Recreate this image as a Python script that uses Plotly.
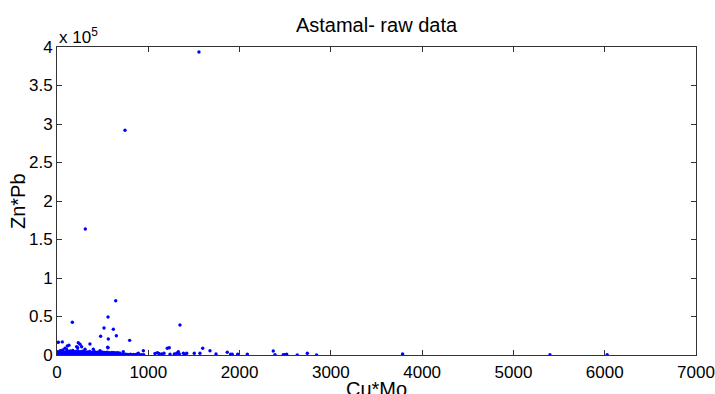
import plotly.graph_objects as go

# ---- data ----
outlier_x = [1555, 745, 310, 168, 559, 643, 515, 617, 478, 650, 562, 796, 1347, 559,
             15, 58, 113, 131, 233, 252, 270, 215, 227, 361, 307, 398, 555, 471, 726, 88,
             946, 891, 873, 1073, 1099, 1117, 1147, 1172, 1208, 1230, 1238, 1285, 1311,
             1329, 1340, 1384, 1402, 1421, 1504, 1566, 1596, 1676, 1742, 1865, 1902, 1920,
             1979, 2085, 2369, 2388, 2479, 2497, 2516, 2632, 2742, 2844, 3786, 5400, 6027]
outlier_y = [393500, 291800, 163600, 42500, 49400, 70500, 35000, 33400, 24300, 25000, 20800,
             19000, 39000, 9500, 16500, 17000, 11700, 12600, 16000, 13900, 10800, 10800, 9500,
             14300, 7400, 7400, 10000, 5600, 4300, 8700, 5600, 2200, 900, 2000, 3000, 2000,
             1500, 2200, 8700, 9500, 900, 1300, 2200, 4300, 1300, 2200, 900, 2200, 2200, 2200,
             8700, 5600, 1300, 3500, 900, 900, 900, 900, 5200, 500, 500, 500, 1200, 200, 2200,
             200, 1300, 300, 300]

low_x = [3, 15, 28, 40, 55, 68, 80, 95, 108, 120, 135, 148, 160, 175, 188, 200, 215, 228,
         240, 255, 268, 280, 295, 308, 320, 335, 348, 360, 375, 388, 400, 415, 428, 440,
         455, 468, 480, 495, 508, 520, 535, 548, 560, 575, 588, 600, 615, 628, 640, 655,
         668, 680, 695, 708, 720, 735, 748, 760, 775, 790, 805, 820, 840, 860, 880, 900,
         925, 950]
low_y = [1200, 800, 2100, 1500, 900, 2400, 1700, 1100, 2600, 1300, 800, 2200, 1900, 1000,
         2500, 1400, 900, 2000, 1600, 1100, 2300, 1200, 700, 1800, 1500, 1000, 2100, 900,
         1700, 1300, 800, 1900, 1100, 1500, 700, 1600, 1200, 900, 2000, 1000, 1400, 800,
         1700, 1100, 900, 1500, 700, 1300, 1000, 600, 1200, 800, 1000, 500, 900, 700, 1100,
         600, 800, 500, 900, 400, 700, 500, 600, 400, 500, 300]

mid_x = [8, 22, 35, 50, 62, 78, 92, 105, 118, 132, 145, 158, 172, 185, 198, 212, 226, 238,
         252, 266, 280, 292, 305, 318, 332, 345, 358, 372, 386, 398, 412, 426, 440, 452,
         466, 480, 494, 506, 520, 534, 548, 562, 576, 590, 604, 618, 632, 646, 660, 674, 690]
mid_y = [4200, 3500, 5600, 3000, 6500, 4100, 3300, 7200, 4800, 3600, 5200, 3900, 6000, 3400,
         4700, 3100, 5500, 3800, 4300, 3200, 5000, 3600, 4400, 3000, 3900, 3300, 4600, 2900,
         3700, 3100, 4200, 2800, 3500, 3000, 3800, 2700, 4000, 2900, 3300, 2600, 3600, 2800,
         3100, 2500, 3400, 2700, 2900, 2400, 3000, 2600, 2300]

cu_mo = outlier_x + low_x + mid_x
zn_pb = outlier_y + low_y + mid_y

x_ticks = [0, 1000, 2000, 3000, 4000, 5000, 6000, 7000]
y_ticks = [0, 50000, 100000, 150000, 200000, 250000, 300000, 350000, 400000]
y_tick_labels = ["0", "0.5", "1", "1.5", "2", "2.5", "3", "3.5", "4"]

W, H = 715, 394
L, R, T, B = 57, 19, 47, 39
pw, ph = W - L - R, H - T - B

font = "Liberation Sans, Arial, sans-serif"

fig = go.Figure(go.Scatter(
    x=cu_mo, y=zn_pb, mode="markers",
    marker=dict(color="#0000ff", size=3.4, line=dict(width=0)),
    hoverinfo="x+y",
))

axis_common = dict(
    showline=True, linecolor="#333333", linewidth=1, mirror="ticks",
    ticks="inside", ticklen=5, tickcolor="#333333", tickwidth=1,
    showgrid=False, zeroline=False, automargin=False,
    tickfont=dict(family=font, size=17, color="#000000"),
)

fig.update_layout(
    width=W, height=H,
    margin=dict(l=L, r=R, t=T, b=B, autoexpand=False),
    paper_bgcolor="white", plot_bgcolor="white",
    showlegend=False,
    title=dict(text="Astamal- raw data", x=(L + pw / 2) / W, xanchor="center",
               y=1 - 25 / H, yanchor="middle",
               font=dict(family=font, size=20, color="#000000")),
    xaxis=dict(range=[0, 7000], tickvals=x_ticks, ticklabelstandoff=2, **axis_common),
    yaxis=dict(range=[0, 400000], tickvals=y_ticks, ticktext=y_tick_labels,
               ticklabelstandoff=0, **axis_common),
)

fig.add_annotation(text="x 10<sup>5</sup>", xref="paper", yref="paper",
                   x=0, y=1 + 11 / ph, xanchor="left", yanchor="middle",
                   showarrow=False, font=dict(family=font, size=17, color="#000000"))
fig.add_annotation(text="Cu*Mo", xref="paper", yref="paper",
                   x=0.5, y=-34 / ph, xanchor="center", yanchor="middle",
                   showarrow=False, font=dict(family=font, size=20, color="#000000"))
fig.add_annotation(text="Zn*Pb", xref="paper", yref="paper", textangle=-90,
                   x=-(L - 18) / pw, y=0.5, xanchor="center", yanchor="middle",
                   showarrow=False, font=dict(family=font, size=20, color="#000000"))

fig.write_html("out.html", config={"displayModeBar": False},
               post_script="document.body.style.margin='0';document.body.style.overflow='hidden';")
